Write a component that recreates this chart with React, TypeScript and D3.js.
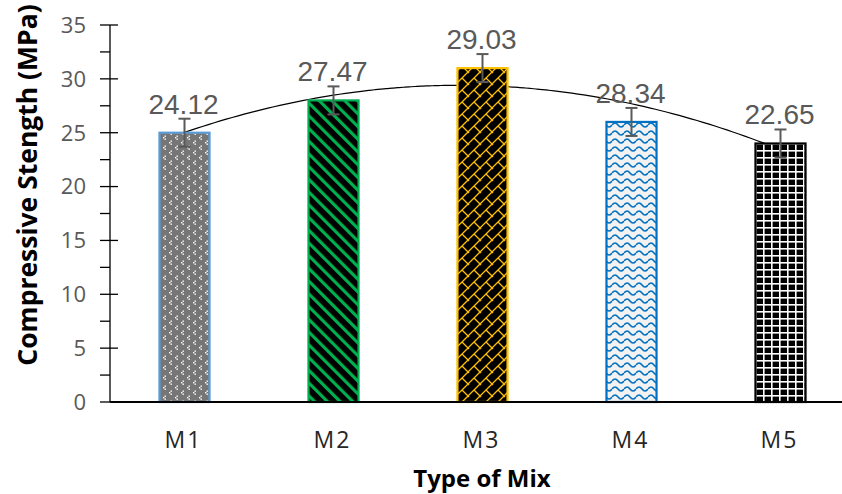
import React from "react";
import * as d3 from "d3";

const categories = ["M1", "M2", "M3", "M4", "M5"];
const values = [25, 28, 31, 26, 24];
const labels = ["24.12", "27.47", "29.03", "28.34", "22.65"];
const errors = [1.3, 1.3, 1.3, 1.3, 1.3];
const yTicks = [0, 5, 10, 15, 20, 25, 30, 35];
const minorTicks = [2.5, 7.5, 12.5, 17.5, 22.5, 27.5, 32.5];
const strokeColors = ["#5b9bd5", "#00b050", "#ffc000", "#0070c0", "#000000"];
const patternIds = ["p1", "p2", "p3", "p4", "p5"];

const W = 842;
const H = 494;
const grey = "#595959";

function polyFit2(xs: number[], ys: number[]) {
  // least-squares quadratic trendline (Excel polynomial order 2)
  const n = xs.length;
  let s = [0, 0, 0, 0, 0];
  let t = [0, 0, 0];
  for (let i = 0; i < n; i++) {
    for (let k = 0; k < 5; k++) s[k] += Math.pow(xs[i], k);
    for (let k = 0; k < 3; k++) t[k] += Math.pow(xs[i], k) * ys[i];
  }
  const A = [
    [s[0], s[1], s[2], t[0]],
    [s[1], s[2], s[3], t[1]],
    [s[2], s[3], s[4], t[2]],
  ];
  for (let i = 0; i < 3; i++) {
    for (let j = i + 1; j < 3; j++) {
      const f = A[j][i] / A[i][i];
      for (let k = i; k < 4; k++) A[j][k] -= f * A[i][k];
    }
  }
  const c = [0, 0, 0];
  for (let i = 2; i >= 0; i--) {
    let v = A[i][3];
    for (let k = i + 1; k < 3; k++) v -= A[i][k] * c[k];
    c[i] = v / A[i][i];
  }
  return (x: number) => c[0] + c[1] * x + c[2] * x * x;
}

export default function App() {
  const x = d3
    .scaleBand<string>()
    .domain(categories)
    .range([110, 855])
    .paddingInner(0.664)
    .paddingOuter(0.332);
  const y = d3.scaleLinear().domain([0, 35]).range([402, 25]);
  const bw = x.bandwidth();
  const cx = (c: string) => (x(c) as number) + bw / 2;

  const fit = polyFit2(
    categories.map((_, i) => i + 1),
    values
  );
  const xi = d3.scaleLinear().domain([1, 5]).range([cx("M1"), cx("M5")]);
  const pts = d3.range(0, 101).map((k) => 1 + (4 * k) / 100);
  const trend = d3
    .line<number>()
    .x((d) => xi(d))
    .y((d) => y(fit(d)))
    .curve(d3.curveMonotoneX)(pts);

  return (
    <svg
      width={W}
      height={H}
      style={{ position: "absolute", left: 0, top: 0, background: "#fff" }}
    >
      <defs>
        <pattern id="p1" width="12" height="10" patternUnits="userSpaceOnUse">
          <rect width="12" height="10" fill="#767676" />
          <g fill="#ffffff">
            <rect x="2.5" y="0.5" width="1.4" height="1.4" />
            <rect x="1" y="2" width="1.4" height="1.4" />
            <rect x="2.5" y="3.5" width="1.4" height="1.4" />
            <rect x="8.5" y="5.5" width="1.4" height="1.4" />
            <rect x="7" y="7" width="1.4" height="1.4" />
            <rect x="8.5" y="8.5" width="1.4" height="1.4" />
          </g>
        </pattern>
        <pattern
          id="p2"
          width="9"
          height="9"
          patternUnits="userSpaceOnUse"
          patternTransform="rotate(-45)"
        >
          <rect width="9" height="9" fill="#000" />
          <rect width="3.2" height="9" fill="#00b050" />
        </pattern>
        <pattern id="p3" width="12" height="12" patternUnits="userSpaceOnUse">
          <rect width="12" height="12" fill="#000" />
          <path
            d="M0,12 L12,0 M6,6 L12,12 M0,0 L1,1"
            stroke="#ffc000"
            strokeWidth="1.3"
            fill="none"
          />
        </pattern>
        <pattern id="p4" width="12" height="8" patternUnits="userSpaceOnUse">
          <rect width="12" height="8" fill="#f2f2f2" />
          <path
            d="M0,5 Q3,1 6,5 T12,5"
            stroke="#0070c0"
            strokeWidth="1.6"
            fill="none"
          />
        </pattern>
        <pattern id="p5" width="8" height="7" patternUnits="userSpaceOnUse">
          <rect width="8" height="7" fill="#000" />
          <rect x="3" y="0" width="1.6" height="7" fill="#fff" />
          <rect x="0" y="3" width="8" height="1.6" fill="#fff" />
        </pattern>
      </defs>

      {/* y axis */}
      <line x1={110} x2={110} y1={y(35)} y2={y(0)} stroke="#000" strokeWidth={1.3} />
      {yTicks.map((t) => (
        <g key={"t" + t}>
          <line x1={100} x2={118} y1={y(t)} y2={y(t)} stroke="#000" strokeWidth={1.3} />
          <text
            x={86}
            y={y(t)}
            dy="0.36em"
            textAnchor="end"
            fontFamily="'Open Sans', sans-serif"
            fontSize={22}
            fill={grey}
          >
            {t}
          </text>
        </g>
      ))}
      {minorTicks.map((t) => (
        <line key={"m" + t} x1={100} x2={110} y1={y(t)} y2={y(t)} stroke="#000" strokeWidth={1.3} />
      ))}

      {/* trendline */}
      <path d={trend || ""} fill="none" stroke="#000" strokeWidth={1.2} />

      {/* bars */}
      {categories.map((c, i) => (
        <rect
          key={c}
          x={x(c) as number}
          y={y(values[i])}
          width={bw}
          height={y(0) - y(values[i])}
          fill={`url(#${patternIds[i]})`}
          stroke={strokeColors[i]}
          strokeWidth={2.2}
        />
      ))}

      {/* x axis */}
      <line x1={110} x2={W} y1={y(0)} y2={y(0)} stroke="#000" strokeWidth={2} />

      {/* error bars */}
      {categories.map((c, i) => {
        const X = cx(c);
        const y1 = y(values[i] + errors[i]);
        const y2 = y(values[i] - errors[i]);
        return (
          <g key={"e" + c} stroke={grey} strokeWidth={2}>
            <line x1={X} x2={X} y1={y1} y2={y2} />
            <line x1={X - 6} x2={X + 6} y1={y1} y2={y1} />
            <line x1={X - 6} x2={X + 6} y1={y2} y2={y2} />
          </g>
        );
      })}

      {/* data labels */}
      {categories.map((c, i) => (
        <text
          key={"l" + c}
          x={cx(c) - 1}
          y={y(values[i]) - 19}
          textAnchor="middle"
          fontFamily="'Liberation Sans', Arial, sans-serif"
          fontSize={28}
          fill={grey}
        >
          {labels[i]}
        </text>
      ))}

      {/* x tick labels */}
      {categories.map((c) => (
        <text
          key={"x" + c}
          x={cx(c) - 1}
          y={448}
          textAnchor="middle"
          fontFamily="'Open Sans', sans-serif"
          fontSize={23}
          letterSpacing={2}
          fill="#262626"
        >
          {c}
        </text>
      ))}

      {/* axis titles */}
      <text
        x={482}
        y={487}
        textAnchor="middle"
        fontFamily="'Open Sans', sans-serif"
        fontWeight="bold"
        fontSize={24}
        fill="#000"
      >
        Type of Mix
      </text>
      <text
        transform="translate(37,185) rotate(-90)"
        textAnchor="middle"
        fontFamily="'Open Sans', sans-serif"
        fontWeight="bold"
        fontSize={26.5}
        fill="#000"
      >
        Compressive Stength (MPa)
      </text>
    </svg>
  );
}
